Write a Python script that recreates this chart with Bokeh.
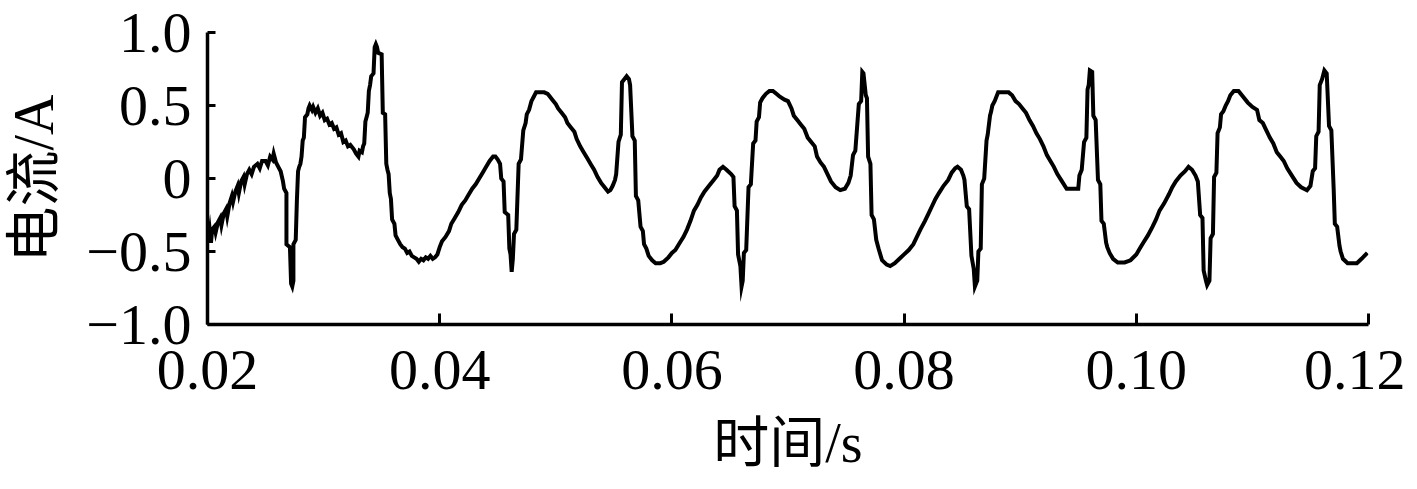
from bokeh.plotting import figure
from bokeh.models import FixedTicker, Range1d
from bokeh.embed import file_html
from bokeh.resources import INLINE

# ---- data ----
time_s = [
    0.0201, 0.0202, 0.0203, 0.0204, 0.0206, 0.0207, 0.0209, 0.0211, 0.0212, 0.0214,
    0.0216, 0.0217, 0.0219, 0.0221, 0.0222, 0.0224, 0.0226, 0.0227, 0.0229, 0.0231,
    0.0232, 0.0234, 0.0236, 0.0238, 0.0240, 0.0243, 0.0245, 0.0247, 0.0250, 0.0252,
    0.0254, 0.0256, 0.0257, 0.0259, 0.0261, 0.0263, 0.0265, 0.0266, 0.0268, 0.0268,
    0.0271, 0.0272, 0.0273, 0.0274, 0.0274, 0.0276, 0.0277, 0.0278, 0.0279, 0.0280,
    0.0281, 0.0282, 0.0283, 0.0284, 0.0286, 0.0287, 0.0288, 0.0290, 0.0291, 0.0293,
    0.0295, 0.0297, 0.0299, 0.0301, 0.0303, 0.0305, 0.0307, 0.0309, 0.0311, 0.0313,
    0.0315, 0.0317, 0.0319, 0.0321, 0.0323, 0.0326, 0.0328, 0.0330, 0.0331, 0.0333,
    0.0334, 0.0335, 0.0336, 0.0337, 0.0338, 0.0339, 0.0340, 0.0341, 0.0343, 0.0344,
    0.0345, 0.0346, 0.0347, 0.0350, 0.0351, 0.0353, 0.0354, 0.0355, 0.0356, 0.0357,
    0.0358, 0.0359, 0.0361, 0.0362, 0.0364, 0.0366, 0.0368, 0.0370, 0.0372, 0.0374,
    0.0376, 0.0378, 0.0380, 0.0382, 0.0384, 0.0386, 0.0388, 0.0390, 0.0392, 0.0394,
    0.0396, 0.0398, 0.0400, 0.0402,
    0.0405, 0.0408, 0.0410, 0.0413, 0.0416, 0.0419, 0.0422, 0.0425, 0.0428, 0.0431,
    0.0434, 0.0437, 0.0440, 0.0443, 0.0446, 0.0448, 0.0450, 0.0452, 0.0453, 0.0455,
    0.0456, 0.0459, 0.0460, 0.0461, 0.0462, 0.0463, 0.0464, 0.0466, 0.0468, 0.0470,
    0.0472, 0.0474, 0.0475, 0.0477, 0.0479, 0.0481, 0.0483, 0.0487, 0.0490, 0.0493,
    0.0495, 0.0497, 0.0500, 0.0502, 0.0505, 0.0508, 0.0510, 0.0513, 0.0516, 0.0518,
    0.0521, 0.0524, 0.0527, 0.0530, 0.0533, 0.0536, 0.0539, 0.0542, 0.0545, 0.0547,
    0.0549, 0.0551, 0.0552, 0.0554, 0.0556, 0.0557, 0.0559, 0.0561, 0.0563, 0.0564,
    0.0566, 0.0568, 0.0569, 0.0571, 0.0573, 0.0575, 0.0576, 0.0578, 0.0580, 0.0583,
    0.0586, 0.0590, 0.0593, 0.0597, 0.0600, 0.0603, 0.0606,
    0.0610, 0.0613, 0.0616, 0.0619, 0.0622, 0.0625, 0.0628, 0.0632, 0.0636, 0.0639,
    0.0641, 0.0644, 0.0647, 0.0651, 0.0653, 0.0654, 0.0656, 0.0657, 0.0659, 0.0660,
    0.0661, 0.0662, 0.0664, 0.0666, 0.0668, 0.0670, 0.0672, 0.0673, 0.0675, 0.0676,
    0.0678, 0.0681, 0.0684, 0.0687, 0.0690, 0.0693, 0.0697, 0.0700, 0.0703, 0.0705,
    0.0708, 0.0711, 0.0714, 0.0717, 0.0720, 0.0723, 0.0725, 0.0728, 0.0731, 0.0734,
    0.0737, 0.0741, 0.0745, 0.0749, 0.0752, 0.0754, 0.0756, 0.0758, 0.0761, 0.0763,
    0.0764, 0.0765, 0.0767, 0.0768, 0.0769, 0.0771, 0.0772, 0.0774, 0.0776, 0.0778,
    0.0781, 0.0785, 0.0788, 0.0792, 0.0796, 0.0800, 0.0804,
    0.0808, 0.0811, 0.0814, 0.0818, 0.0821, 0.0824, 0.0827, 0.0830, 0.0834, 0.0838,
    0.0841, 0.0844, 0.0846, 0.0849, 0.0851, 0.0852, 0.0854, 0.0856, 0.0858, 0.0860,
    0.0861, 0.0863, 0.0864, 0.0866, 0.0867, 0.0869, 0.0871, 0.0872, 0.0874, 0.0875,
    0.0876, 0.0878, 0.0881, 0.0885, 0.0890, 0.0893, 0.0896, 0.0899, 0.0902, 0.0905,
    0.0908, 0.0911, 0.0914, 0.0917, 0.0920, 0.0923, 0.0926, 0.0929, 0.0932, 0.0936,
    0.0940, 0.0945, 0.0950, 0.0951, 0.0953, 0.0955, 0.0957, 0.0958, 0.0959, 0.0960,
    0.0962, 0.0963, 0.0965, 0.0967, 0.0969, 0.0970, 0.0972, 0.0974, 0.0975, 0.0977,
    0.0980, 0.0984, 0.0990, 0.0995, 0.1000, 0.1003,
    0.1006, 0.1010, 0.1014, 0.1017, 0.1020, 0.1024, 0.1028, 0.1031, 0.1034, 0.1038,
    0.1042, 0.1045, 0.1048, 0.1051, 0.1053, 0.1055, 0.1057, 0.1058, 0.1060, 0.1061,
    0.1063, 0.1064, 0.1066, 0.1067, 0.1069, 0.1070, 0.1072, 0.1073, 0.1075, 0.1077,
    0.1079, 0.1081, 0.1084, 0.1088, 0.1092, 0.1096, 0.1100, 0.1104, 0.1106, 0.1109,
    0.1112, 0.1115, 0.1118, 0.1121, 0.1124, 0.1127, 0.1130, 0.1134, 0.1138, 0.1142,
    0.1147, 0.1150, 0.1152, 0.1154, 0.1155, 0.1157, 0.1158, 0.1160, 0.1162, 0.1164,
    0.1166, 0.1168, 0.1170, 0.1171, 0.1173, 0.1175, 0.1176, 0.1178, 0.1182, 0.1186,
    0.1190, 0.1194, 0.1199,
]
current_a = [
    -0.42, -0.36, -0.44, -0.35, -0.33, -0.37, -0.30, -0.27, -0.32, -0.24,
    -0.21, -0.26, -0.17, -0.12, -0.16, -0.09, -0.05, -0.10, -0.02, 0.01,
    -0.04, 0.03, 0.06, 0.03, 0.08, 0.10, 0.07, 0.12, 0.12, 0.09,
    0.15, 0.13, 0.17, 0.11, 0.08, 0.05, -0.02, -0.07, -0.10, -0.45,
    -0.47, -0.72, -0.74, -0.70, -0.45, -0.42, -0.15, 0.05, 0.08, 0.10,
    0.15, 0.26, 0.28, 0.42, 0.44, 0.48, 0.50, 0.47, 0.49, 0.45,
    0.48, 0.43, 0.45, 0.40, 0.41, 0.37, 0.38, 0.34, 0.35, 0.30,
    0.31, 0.25, 0.26, 0.22, 0.23, 0.20, 0.17, 0.15, 0.19, 0.18,
    0.22, 0.24, 0.39, 0.42, 0.45, 0.60, 0.64, 0.70, 0.72, 0.90,
    0.92, 0.90, 0.86, 0.85, 0.45, 0.44, 0.10, 0.06, 0.03, -0.10,
    -0.14, -0.28, -0.31, -0.39, -0.42, -0.45, -0.47, -0.48, -0.51, -0.50,
    -0.53, -0.54, -0.55, -0.57, -0.55, -0.56, -0.54, -0.55, -0.53, -0.55,
    -0.54, -0.52, -0.47, -0.43,
    -0.40, -0.36, -0.31, -0.27, -0.23, -0.18, -0.15, -0.11, -0.07, -0.04,
    0.00, 0.04, 0.08, 0.12, 0.15, 0.15, 0.13, 0.10, 0.00, -0.02,
    -0.23, -0.25, -0.48, -0.52, -0.64, -0.55, -0.38, -0.35, 0.10, 0.13,
    0.33, 0.38, 0.44, 0.47, 0.53, 0.56, 0.59, 0.59, 0.59, 0.58,
    0.56, 0.54, 0.51, 0.48, 0.45, 0.42, 0.38, 0.35, 0.32, 0.27,
    0.22, 0.18, 0.14, 0.10, 0.06, 0.01, -0.03, -0.06, -0.09, -0.08,
    -0.05, -0.01, 0.03, 0.25, 0.30, 0.66, 0.68, 0.70, 0.68, 0.64,
    0.29, 0.26, -0.12, -0.15, -0.33, -0.36, -0.45, -0.48, -0.53, -0.56,
    -0.58, -0.58, -0.57, -0.54, -0.51, -0.49, -0.45,
    -0.40, -0.35, -0.29, -0.22, -0.18, -0.13, -0.09, -0.05, -0.01, 0.02,
    0.06, 0.08, 0.06, 0.03, 0.01, -0.19, -0.22, -0.52, -0.60, -0.74,
    -0.70, -0.51, -0.49, -0.06, -0.04, 0.24, 0.26, 0.39, 0.42, 0.52,
    0.55, 0.58, 0.60, 0.60, 0.58, 0.56, 0.54, 0.53, 0.48, 0.43,
    0.40, 0.37, 0.34, 0.28, 0.25, 0.22, 0.15, 0.11, 0.08, 0.03,
    -0.02, -0.06, -0.08, -0.07, -0.03, 0.02, 0.16, 0.19, 0.51, 0.53,
    0.73, 0.72, 0.57, 0.55, 0.15, 0.10, -0.25, -0.28, -0.42, -0.48,
    -0.56, -0.59, -0.60, -0.58, -0.55, -0.52, -0.49,
    -0.45, -0.40, -0.35, -0.29, -0.24, -0.19, -0.14, -0.10, -0.05, -0.01,
    0.04, 0.07, 0.08, 0.06, 0.02, -0.01, -0.19, -0.21, -0.53, -0.62,
    -0.74, -0.70, -0.50, -0.48, -0.04, 0.00, 0.26, 0.30, 0.43, 0.46,
    0.50, 0.53, 0.59, 0.59, 0.59, 0.57, 0.53, 0.51, 0.48, 0.45,
    0.40, 0.36, 0.31, 0.27, 0.22, 0.16, 0.12, 0.08, 0.03, -0.02,
    -0.07, -0.07, -0.07, 0.02, 0.06, 0.25, 0.28, 0.61, 0.64, 0.74,
    0.73, 0.43, 0.40, -0.01, -0.04, -0.29, -0.31, -0.44, -0.47, -0.51,
    -0.55, -0.575, -0.575, -0.56, -0.52, -0.48,
    -0.44, -0.39, -0.33, -0.28, -0.22, -0.17, -0.11, -0.06, -0.02, 0.02,
    0.05, 0.08, 0.06, 0.02, -0.02, -0.25, -0.27, -0.63, -0.70, -0.73,
    -0.70, -0.41, -0.38, 0.01, 0.04, 0.31, 0.35, 0.44, 0.46, 0.50,
    0.53, 0.57, 0.60, 0.60, 0.56, 0.52, 0.49, 0.47, 0.40, 0.38,
    0.33, 0.28, 0.24, 0.18, 0.15, 0.12, 0.07, 0.02, -0.03, -0.06,
    -0.08, -0.05, 0.05, 0.07, 0.29, 0.32, 0.64, 0.68, 0.74, 0.72,
    0.36, 0.33, -0.07, -0.31, -0.33, -0.46, -0.50, -0.55, -0.58, -0.58,
    -0.58, -0.55, -0.51,
]

x_ticks = [0.02, 0.04, 0.06, 0.08, 0.10, 0.12]
x_tick_labels = ["0.02", "0.04", "0.06", "0.08", "0.10", "0.12"]
y_ticks = [-1.0, -0.5, 0.0, 0.5, 1.0]
y_tick_labels = ["\u22121.0", "\u22120.5", "0", "0.5", "1.0"]
x_label = "时间/s"
y_label = "电流/A"

SERIF = "Liberation Serif, Noto Sans CJK SC"

p = figure(width=1405, height=476, output_backend="svg", toolbar_location=None,
           x_range=Range1d(0.02, 0.12), y_range=Range1d(-1.0, 1.0),
           min_border_left=205, min_border_right=37, min_border_top=32,
           min_border_bottom=148)
p.outline_line_color = None
p.grid.visible = False
p.background_fill_color = "white"
p.border_fill_color = "white"

p.line(time_s, current_a, line_color="black", line_width=4, line_join="miter")

p.xaxis.ticker = FixedTicker(ticks=x_ticks)
p.yaxis.ticker = FixedTicker(ticks=y_ticks)
p.xaxis.major_label_overrides = dict(zip(x_ticks, x_tick_labels))
p.yaxis.major_label_overrides = dict(zip(y_ticks, y_tick_labels))

for ax in (p.xaxis[0], p.yaxis[0]):
    ax.axis_line_color = "black"
    ax.axis_line_width = 3.5
    ax.major_tick_line_color = "black"
    ax.major_tick_line_width = 3
    ax.major_tick_out = 0
    ax.minor_tick_line_color = None
    ax.major_label_text_font = SERIF
    ax.major_label_text_font_size = "58px"
    ax.major_label_text_color = "black"
    ax.axis_label_text_font = SERIF
    ax.axis_label_text_font_size = "56px"
    ax.axis_label_text_font_style = "normal"
    ax.axis_label_text_color = "black"

p.xaxis.major_tick_in = 11
p.yaxis.major_tick_in = 8
p.xaxis.major_label_standoff = 26
p.yaxis.major_label_standoff = 16
p.xaxis.axis_label_standoff = 20
p.yaxis.axis_label_standoff = 18
p.xaxis.axis_label = x_label
p.yaxis.axis_label = y_label

open("out.html", "w").write(file_html(p, INLINE))
